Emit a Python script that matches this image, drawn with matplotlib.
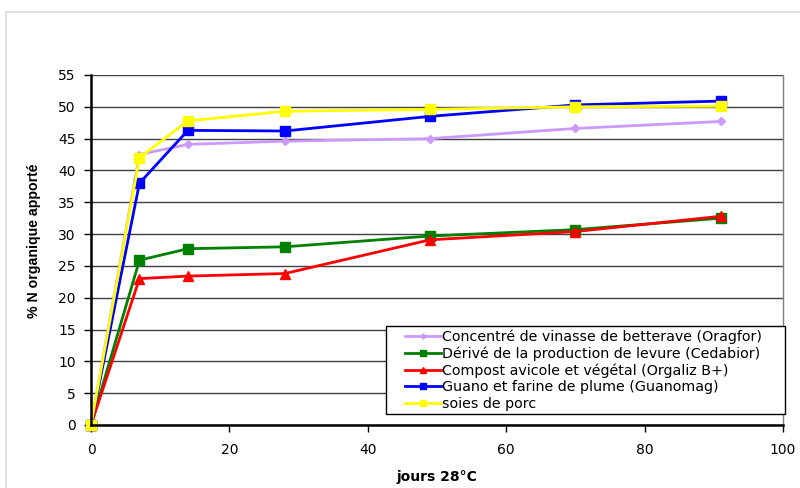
import matplotlib
matplotlib.use("Agg")
import matplotlib.pyplot as plt
from matplotlib.patches import Rectangle
from matplotlib.legend_handler import HandlerLine2D

plt.rcParams["font.family"] = ["Liberation Sans", "DejaVu Sans"]
WIDE = ["DejaVu Sans"]

days = [0, 7, 14, 28, 49, 70, 91]
vinasse = [0, 42.5, 44.1, 44.6, 45.0, 46.6, 47.7]
levure = [0, 25.9, 27.7, 28.0, 29.7, 30.7, 32.5]
compost = [0, 23.0, 23.4, 23.8, 29.1, 30.4, 32.8]
guano = [0, 38.0, 46.3, 46.2, 48.5, 50.3, 50.9]
soies = [0, 42.0, 47.8, 49.3, 49.6, 50.0, 50.1]

labels = [
    "Concentré de vinasse de betterave (Oragfor)",
    "Dérivé de la production de levure (Cedabior)",
    "Compost avicole et végétal (Orgaliz B+)",
    "Guano et farine de plume (Guanomag)",
    "soies de porc",
]
x_ticks = [0, 20, 40, 60, 80, 100]
y_ticks = list(range(0, 60, 5))


class IndentedLine(HandlerLine2D):
    """Legend line handle that leaves an empty margin on its left."""

    def __init__(self, indent=0.3, **kw):
        super().__init__(**kw)
        self.indent = indent

    def create_artists(self, legend, orig_handle, xdescent, ydescent,
                       width, height, fontsize, trans):
        shift = self.indent * width
        return super().create_artists(legend, orig_handle, xdescent - shift,
                                      ydescent, width - shift, height,
                                      fontsize, trans)


fig = plt.figure(figsize=(8, 4.88), dpi=100)
fig.patches.append(Rectangle((6 / 800, -0.01), 1.0, 1 - 12 / 488 + 0.01,
                             transform=fig.transFigure, fill=False,
                             edgecolor="#d9d9d9", linewidth=1.2))

ax = fig.add_axes([91 / 800, 1 - 425 / 488, 692 / 800, 350 / 488])

styles = [
    (vinasse, "#cc99ff", "D", 4),
    (levure, "#008000", "s", 7),
    (compost, "#ff0000", "^", 6.5),
    (guano, "#0000ff", "s", 7),
    (soies, "#ffff00", "s", 7.5),
]
lines = []
for (vals, color, marker, ms), lab in zip(styles, labels):
    ln, = ax.plot(days, vals, color=color, marker=marker, markersize=ms,
                  linewidth=2, label=lab, markeredgecolor=color,
                  clip_on=False)
    lines.append(ln)

ax.set_xlim(0, 100)
ax.set_ylim(0, 55)
ax.set_xticks(x_ticks)
ax.set_yticks(y_ticks)
ax.yaxis.grid(True, color="#404040", linewidth=1)
ax.set_axisbelow(True)
for side in ("left", "bottom"):
    ax.spines[side].set_linewidth(1.8)
    ax.spines[side].set_color("black")
ax.spines["top"].set_visible(False)
ax.spines["right"].set_color("#808080")
ax.spines["right"].set_linewidth(1)
ax.tick_params(direction="out", length=5, width=1, labelsize=10, pad=6)
ax.tick_params(axis="x", pad=8)
for t in ax.get_xticklabels() + ax.get_yticklabels():
    t.set_fontfamily(WIDE)

ax.set_xlabel("jours 28°C", fontsize=10, fontweight="bold", family=WIDE,
              labelpad=9)
ax.set_ylabel("% N organique apporté", fontsize=10.2, fontweight="bold")
ax.yaxis.set_label_coords(-0.072, 0.525)

leg = ax.legend(handles=lines, loc="lower left",
                bbox_to_anchor=(0.4263, 0.0314, 0.5766, 0.25), mode="expand",
                prop={"family": WIDE, "size": 10.3},
                frameon=True, fancybox=False, handlelength=3.6,
                handletextpad=0.1, borderpad=0.22, labelspacing=0.17,
                borderaxespad=0, markerscale=0.65,
                handler_map={ln: IndentedLine(indent=0.3) for ln in lines})
leg.get_frame().set_edgecolor("black")
leg.get_frame().set_linewidth(1)
leg.get_frame().set_alpha(1)

fig.savefig("out.png", dpi=100)
